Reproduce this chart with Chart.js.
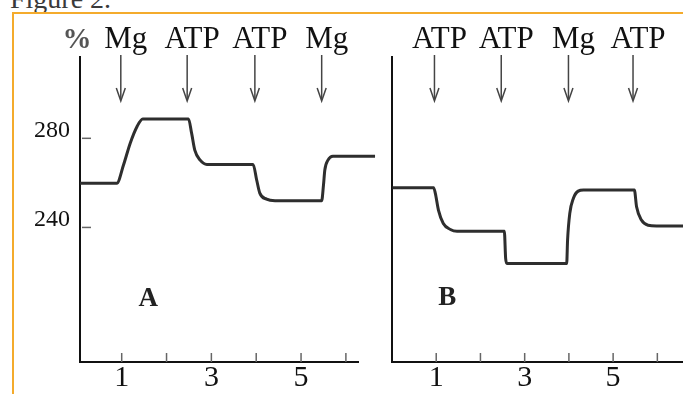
<!DOCTYPE html>
<html>
<head>
<meta charset="utf-8">
<script src="https://cdn.jsdelivr.net/npm/chart.js@4.4.1/dist/chart.umd.min.js"></script>
<style>
  body { margin: 0; background: #fff; overflow: hidden; }
  #wrap { position: relative; width: 683px; height: 394px; overflow: hidden; }
  #title { position: absolute; left: 10px; top: -17px; font: 28px 'Liberation Serif', serif; color: #3a3a3a; white-space: nowrap; }
  #frame { position: absolute; left: 12px; top: 12px; width: 700px; height: 400px; border-top: 2px solid #f4ab2c; border-left: 2px solid #f4ab2c; }
  canvas { position: absolute; top: 0; }
  #chartA { left: 0; }
  #chartB { left: 380px; }
</style>
</head>
<body>
<div id="wrap">
  <div id="title">Figure 2.</div>
  <div id="frame"></div>
  <canvas id="chartA" width="380" height="394"></canvas>
  <canvas id="chartB" width="303" height="394"></canvas>
</div>
<script>
'use strict';

// Panel A trace: time (x) and % value (y)
const timeA  = [0.07, 0.89, 1.04, 1.19, 1.34, 1.47, 2.49, 2.56, 2.63, 2.75, 2.90, 3.93, 4.01, 4.08, 4.23, 4.42, 5.46, 5.50, 5.53, 5.60, 5.71, 6.65];
const valueA = [259.8, 259.8, 268, 277.8, 285.2, 288.7, 288.7, 282.2, 274.7, 270.2, 268.3, 268.3, 261.3, 255.4, 252.7, 252, 252, 259, 265.8, 270.2, 272, 272];
const arrowTimeA  = [0.98, 2.46, 3.97, 5.46];
const arrowLabelA = ['Mg', 'ATP', 'ATP', 'Mg'];

// Panel B trace
const timeB  = [0.01, 0.94, 0.98, 1.05, 1.16, 1.32, 1.47, 2.54, 2.57, 2.60, 3.95, 3.97, 4.02, 4.10, 4.21, 4.33, 5.48, 5.53, 5.64, 5.79, 5.98, 6.60];
const valueB = [257.8, 257.8, 255.3, 247.8, 241.8, 239.1, 238.3, 238.3, 226, 223.8, 223.8, 234.3, 246.3, 253, 256.3, 256.8, 256.8, 249.3, 243.3, 241, 240.7, 240.7];
const arrowTimeB  = [0.96, 2.47, 3.99, 5.45];
const arrowLabelB = ['ATP', 'ATP', 'Mg', 'ATP'];

const xTicks = [1, 2, 3, 4, 5, 6];
const yTicks = [240, 280];
const yMin = 179.6;
const yMax = 316.5;

const serif = "'Liberation Serif', 'Times New Roman', serif";
const ink = '#111';

const panelMarks = {
  id: 'panelMarks',
  afterDraw(chart, args, opts) {
    const { ctx, chartArea } = chart;
    const x = chart.scales.x;
    const y = chart.scales.y;
    ctx.save();

    // short ticks pointing up from the time axis
    ctx.strokeStyle = '#666';
    ctx.lineWidth = 1.5;
    xTicks.forEach(t => {
      const px = x.getPixelForValue(t);
      ctx.beginPath();
      ctx.moveTo(px, chartArea.bottom);
      ctx.lineTo(px, chartArea.bottom - 9);
      ctx.stroke();
    });
    if (opts.yDashes) {
      yTicks.forEach(v => {
        const py = y.getPixelForValue(v);
        ctx.beginPath();
        ctx.moveTo(chartArea.left + 2, py);
        ctx.lineTo(chartArea.left + 11, py);
        ctx.stroke();
      });
    }

    // additions: arrow + label
    ctx.font = '31px ' + serif;
    ctx.textAlign = 'center';
    ctx.textBaseline = 'alphabetic';
    opts.arrows.forEach((t, i) => {
      const px = x.getPixelForValue(t);
      ctx.strokeStyle = '#444';
      ctx.lineWidth = 1.5;
      ctx.beginPath();
      ctx.moveTo(px, 55);
      ctx.lineTo(px, 99);
      ctx.stroke();
      ctx.beginPath();
      ctx.moveTo(px - 4.5, 88);
      ctx.lineTo(px, 101);
      ctx.lineTo(px + 4.5, 88);
      ctx.stroke();
      ctx.fillStyle = ink;
      ctx.fillText(opts.labels[i], px + 5, 48);
    });

    if (opts.unit) {
      ctx.font = 'bold 29px ' + serif;
      ctx.fillStyle = '#555';
      ctx.fillText(opts.unit, chartArea.left - 3, 48);
    }

    // panel letter
    ctx.font = 'bold 27px ' + serif;
    ctx.fillStyle = '#222';
    ctx.textBaseline = 'middle';
    ctx.fillText(opts.letter[0], x.getPixelForValue(opts.letter[1]), y.getPixelForValue(opts.letter[2]));

    ctx.restore();
  }
};

function makeChart(id, times, values, cfg) {
  return new Chart(document.getElementById(id), {
    type: 'line',
    data: {
      datasets: [{
        data: times.map((t, i) => ({ x: t, y: values[i] })),
        borderColor: '#2e2e2e',
        borderWidth: 3,
        pointRadius: 0,
        cubicInterpolationMode: 'monotone',
        clip: false
      }]
    },
    options: {
      responsive: false,
      animation: false,
      events: [],
      layout: { padding: { top: 57, right: cfg.padRight, left: 0, bottom: 0 } },
      scales: {
        x: {
          type: 'linear',
          min: cfg.xMin,
          max: cfg.xMax,
          afterBuildTicks: s => { s.ticks = xTicks.map(v => ({ value: v })); },
          afterFit: s => { s.height = 32; },
          grid: { display: true, drawOnChartArea: false, drawTicks: false },
          border: { display: true, color: ink, width: 2 },
          ticks: {
            autoSkip: false,
            maxRotation: 0,
            padding: -2,
            color: ink,
            font: { family: serif, size: 30 },
            callback: v => (v % 2 === 1 ? String(v) : '')
          }
        },
        y: {
          min: yMin,
          max: yMax,
          afterBuildTicks: s => { s.ticks = yTicks.map(v => ({ value: v })); },
          afterFit: s => { s.width = cfg.yWidth; },
          grid: { display: true, drawOnChartArea: false, drawTicks: false },
          border: { display: true, color: ink, width: 2 },
          ticks: {
            display: cfg.yLabels,
            padding: 10,
            labelOffset: -8,
            color: ink,
            font: { family: serif, size: 24 }
          }
        }
      },
      plugins: {
        legend: { display: false },
        tooltip: { enabled: false },
        panelMarks: cfg.marks
      }
    },
    plugins: [panelMarks]
  });
}

makeChart('chartA', timeA, valueA, {
  padRight: 22, xMin: 0.07, xMax: 6.27, yWidth: 80, yLabels: true,
  marks: { arrows: arrowTimeA, labels: arrowLabelA, unit: '%', yDashes: true, letter: ['A', 1.59, 208] }
});

makeChart('chartB', timeB, valueB, {
  padRight: 0, xMin: 0.0, xMax: 6.58, yWidth: 12, yLabels: false,
  marks: { arrows: arrowTimeB, labels: arrowLabelB, unit: '', yDashes: false, letter: ['B', 1.25, 208.5] }
});
</script>
</body>
</html>
